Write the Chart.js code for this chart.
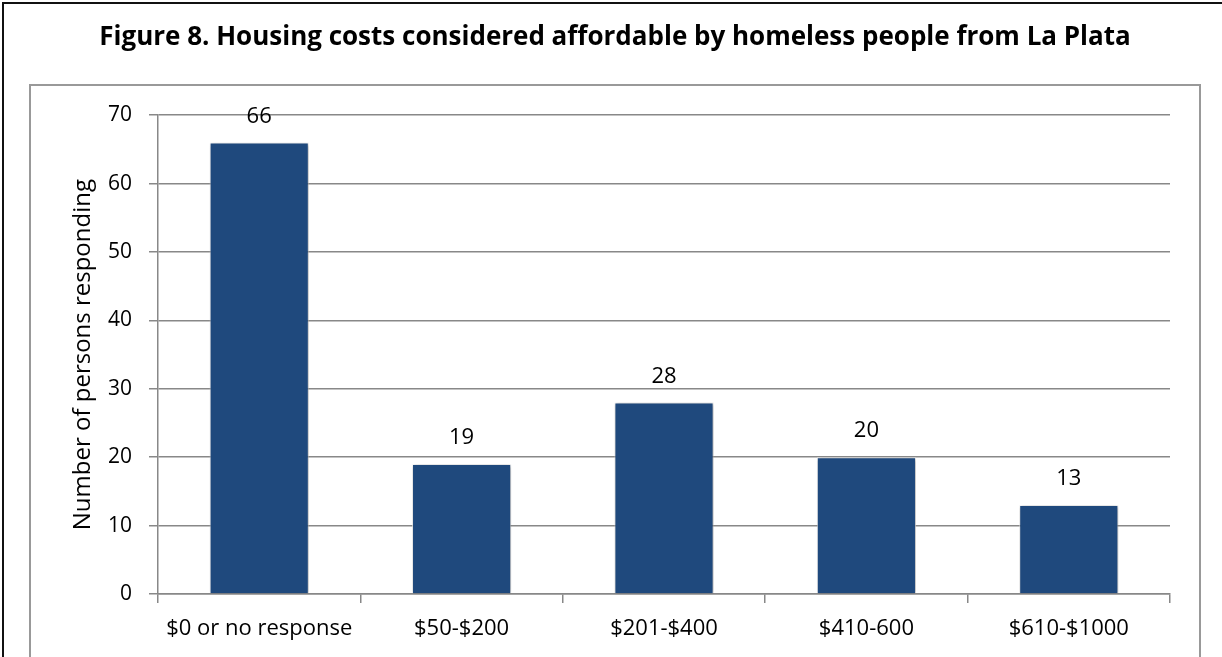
<!DOCTYPE html>
<html>
<head>
<script src="https://cdn.jsdelivr.net/npm/chart.js@4.4.0/dist/chart.umd.min.js"></script>
<style>
  body { margin: 0; background: #fff; }
  #outer { position: absolute; left: 2px; top: 2px; width: 1230px; height: 700px;
           border-left: 2px solid #111; border-top: 2px solid #111; }
  #frame { position: absolute; left: 29px; top: 84px; width: 1168px; height: 600px;
           border: 2px solid #999; }
  #myChart { position: absolute; left: 0; top: 0; }
</style>
</head>
<body>
<div id="outer"></div>
<div id="frame"></div>
<canvas id="myChart" width="1222" height="657"></canvas>

<script>
  var categories = ['$0 or no response', '$50-$200', '$201-$400', '$410-600', '$610-$1000'];
  var responses = [66, 19, 28, 20, 13];
  var chartTitle = 'Figure 8. Housing costs considered affordable by homeless people from La Plata';
  var yTitle = 'Number of persons responding';

  var FONT = '"Open Sans", sans-serif';

  // soft shadow under the bars + the value written above each one
  var barExtras = {
    id: 'barExtras',
    beforeDatasetsDraw: function(chart) {
      var ctx = chart.ctx;
      ctx.save();
      ctx.shadowColor = 'rgba(0,0,0,0.35)';
      ctx.shadowBlur = 4;
      ctx.shadowOffsetX = 1;
      ctx.shadowOffsetY = 1;
    },
    afterDatasetsDraw: function(chart) {
      var ctx = chart.ctx;
      ctx.restore();
      var meta = chart.getDatasetMeta(0);
      var vals = chart.data.datasets[0].data;
      ctx.save();
      ctx.font = '22px ' + FONT;
      ctx.fillStyle = '#000';
      ctx.textAlign = 'center';
      ctx.textBaseline = 'middle';
      meta.data.forEach(function(bar, i) {
        ctx.fillText(String(vals[i]), bar.x, bar.y - 26);
      });
      ctx.restore();
    }
  };

  var ctx = document.getElementById('myChart').getContext('2d');
  var myBarChart = new Chart(ctx, {
    type: 'bar',
    data: {
      labels: categories,
      datasets: [{
        data: responses,
        backgroundColor: '#1F497D',
        borderColor: 'rgba(255,255,255,0.7)',
        borderWidth: 1,
        barPercentage: 0.49,
        categoryPercentage: 1
      }]
    },
    options: {
      responsive: false,
      animation: false,
      layout: { padding: { left: 60, right: 52, top: 6, bottom: 0 } },
      plugins: {
        legend: { display: false },
        tooltip: { enabled: false },
        title: {
          display: true,
          text: chartTitle,
          color: '#000',
          font: { family: FONT, size: 26, weight: 'bold' },
          padding: { top: 16, bottom: 62 }
        }
      },
      scales: {
        x: {
          grid: { drawOnChartArea: false, drawTicks: true, tickLength: 9, color: '#888', lineWidth: 1.5, offset: true },
          border: { color: '#888', width: 1.5 },
          ticks: { color: '#000', font: { family: FONT, size: 22 }, padding: 13, maxRotation: 0 },
          afterFit: function(scale) { scale.height = 63; }
        },
        y: {
          min: 0,
          max: 70,
          ticks: { stepSize: 10, color: '#000', font: { family: FONT, size: 21 }, padding: 17 },
          grid: { color: '#888', lineWidth: 1.5, tickLength: 9 },
          border: { color: '#888', width: 1.5 },
          title: {
            display: true,
            text: yTitle,
            color: '#000',
            font: { family: FONT, size: 24 },
            padding: { top: 9, bottom: 0 }
          },
          afterFit: function(scale) { scale.width = 98; }
        }
      }
    },
    plugins: [barExtras]
  });
</script>
</body>
</html>
